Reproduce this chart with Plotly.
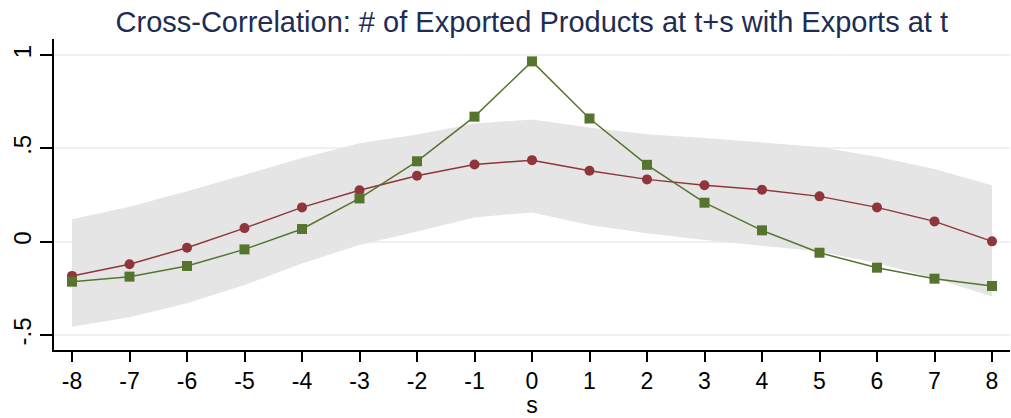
import plotly.graph_objects as go

s = list(range(-8, 9))
products = [-0.183, -0.121, -0.032, 0.073, 0.184, 0.276, 0.353, 0.414, 0.437, 0.38, 0.334, 0.303, 0.278, 0.243, 0.184, 0.109, 0.002]
exports = [-0.214, -0.187, -0.13, -0.041, 0.068, 0.232, 0.431, 0.67, 0.966, 0.66, 0.412, 0.209, 0.061, -0.059, -0.139, -0.198, -0.237]
band_upper = [0.121, 0.187, 0.27, 0.357, 0.448, 0.528, 0.575, 0.633, 0.655, 0.612, 0.576, 0.556, 0.53, 0.508, 0.455, 0.39, 0.303]
band_lower = [-0.455, -0.404, -0.33, -0.232, -0.116, -0.018, 0.055, 0.13, 0.157, 0.09, 0.046, 0.009, -0.021, -0.053, -0.114, -0.195, -0.294]

y_ticks = [-0.5, 0, 0.5, 1]
y_tick_labels = ["-.5", "0", ".5", "1"]

RED = "#90353B"
GREEN = "#55752F"
BAND = "#E5E5E5"

fig = go.Figure()
fig.add_trace(go.Scatter(x=s, y=band_lower, mode="lines", line=dict(width=0, color=BAND),
                         showlegend=False, hoverinfo="skip"))
fig.add_trace(go.Scatter(x=s, y=band_upper, mode="lines", line=dict(width=0, color=BAND),
                         fill="tonexty", fillcolor=BAND, showlegend=False, hoverinfo="skip"))
fig.add_hline(y=0, line=dict(color="black", width=1.5), layer="below")
fig.add_trace(go.Scatter(x=s, y=products, mode="lines+markers",
                         line=dict(color=RED, width=1.5),
                         marker=dict(symbol="circle", size=10, color=RED),
                         showlegend=False))
fig.add_trace(go.Scatter(x=s, y=exports, mode="lines+markers",
                         line=dict(color=GREEN, width=1.5),
                         marker=dict(symbol="square", size=10, color=GREEN),
                         showlegend=False))

fig.update_layout(
    width=1011, height=418,
    margin=dict(l=54, r=1, t=39, b=68),
    paper_bgcolor="white", plot_bgcolor="white",
    font=dict(family="Liberation Sans, Arial, sans-serif", color="black"),
    title=dict(text="Cross-Correlation: # of Exported Products at t+s with Exports at t",
               x=0.526, xanchor="center", y=0.948, yanchor="middle",
               font=dict(size=29, color="#1E2D53")),
)
fig.update_xaxes(range=[-8.313, 8.313], tickmode="array", tickvals=s,
                 ticktext=[str(v) for v in s], ticks="outside", ticklen=10,
                 tickwidth=1.5, tickcolor="black", showline=True, linecolor="black",
                 linewidth=1.5, showgrid=False, zeroline=False, automargin=False,
                 tickfont=dict(size=23),
                 title=dict(text="s", font=dict(size=23), standoff=2))
fig.update_yaxes(range=[-0.58, 1.086], tickmode="array", tickvals=y_ticks,
                 ticktext=y_tick_labels, tickangle=-90, ticks="outside", ticklen=12,
                 tickwidth=1.5, tickcolor="black", showline=True, linecolor="black",
                 linewidth=1.5, showgrid=True, gridcolor="#EAF2F3", gridwidth=1.5,
                 zeroline=False, automargin=False, tickfont=dict(size=24))

fig.write_html("out.html", config={"displayModeBar": False},
               post_script="document.body.style.margin='0';document.body.style.padding='0';")
